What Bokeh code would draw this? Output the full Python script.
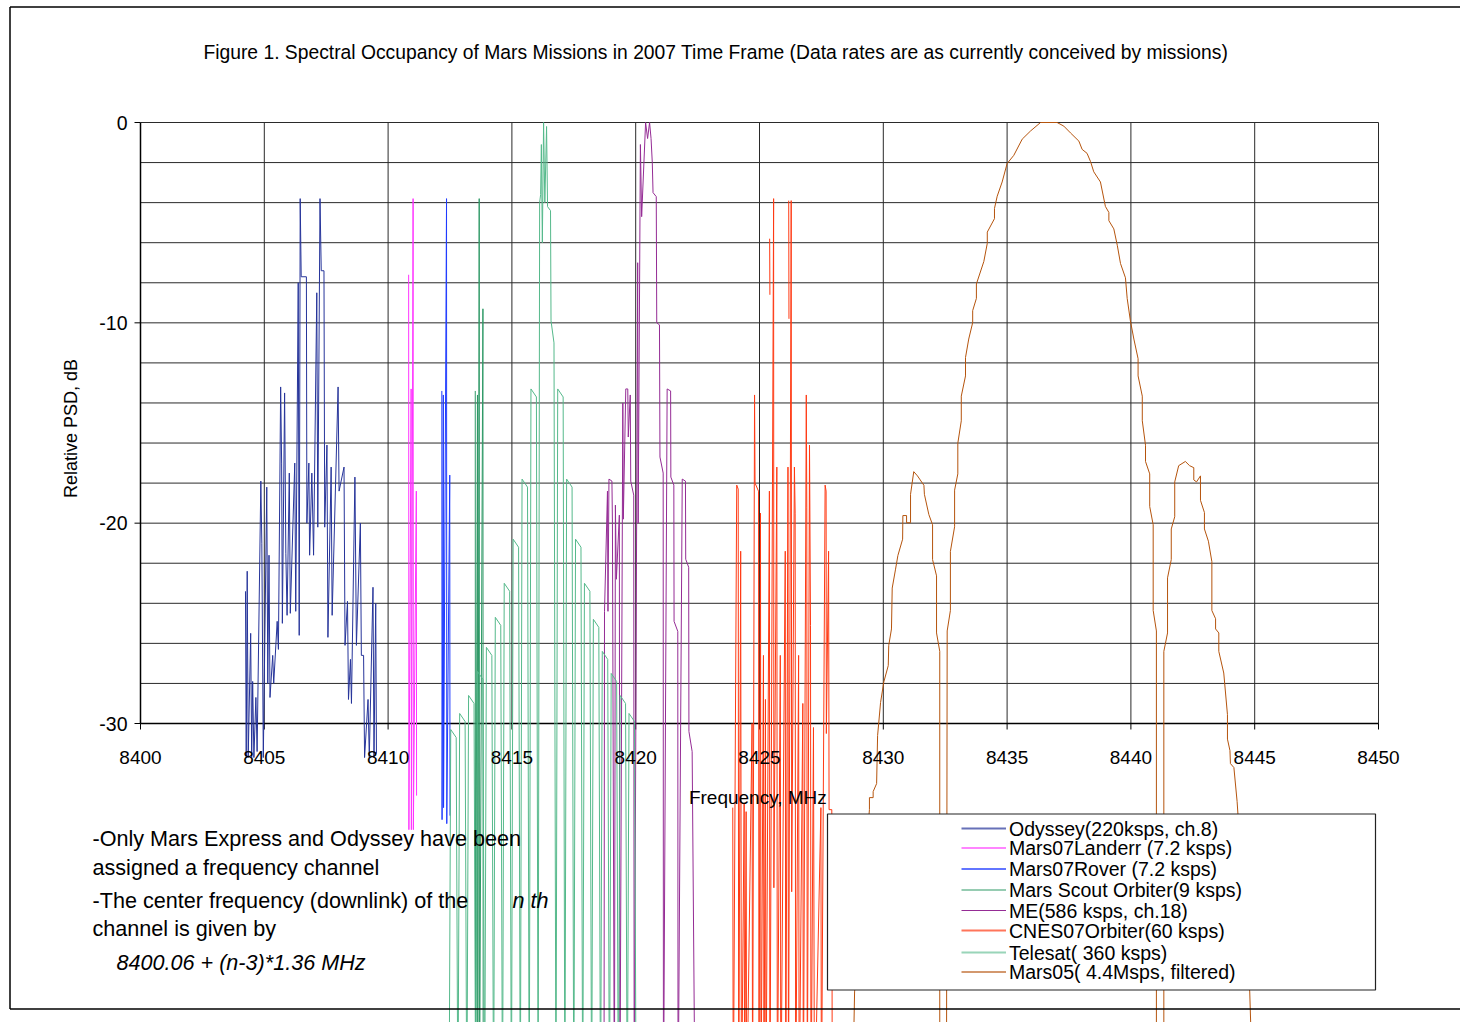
import math
import numpy as np
from bokeh.plotting import figure
from bokeh.models import Range1d
from bokeh.core.properties import value
from bokeh.embed import file_html
from bokeh.resources import INLINE

NaN = float("nan")

# ---------------- texts / ticks ----------------
title_text = ("Figure 1. Spectral Occupancy of Mars Missions  in 2007 Time Frame "
              "(Data rates are as currently conceived by missions)")
x_title = "Frequency,  MHz"
y_title = "Relative PSD, dB"
x_ticks = [8400, 8405, 8410, 8415, 8420, 8425, 8430, 8435, 8440, 8445, 8450]
x_tick_labels = ["8400", "8405", "8410", "8415", "8420", "8425", "8430", "8435", "8440", "8445", "8450"]
y_ticks = [0, -10, -20, -30]
y_tick_labels = ["0", "-10", "-20", "-30"]
y_grid = [0, -2, -4, -6, -8, -10, -12, -14, -16, -18, -20, -22, -24, -26, -28, -30]

note_lines = ["-Only Mars Express and Odyssey have been",
              "assigned a frequency channel",
              "-The center frequency (downlink) of the",
              "channel is given by"]
note_nth = "n th"
note_formula = "8400.06 + (n-3)*1.36 MHz"

series_names = ["Odyssey(220ksps,  ch.8)", "Mars07Landerr  (7.2  ksps)", "Mars07Rover  (7.2  ksps)",
                "Mars Scout Orbiter(9 ksps)", "ME(586 ksps, ch.18)", "CNES07Orbiter(60  ksps)",
                "Telesat(  360  ksps)", "Mars05(  4.4Msps, filtered)"]
series_colors = ["#26349A", "#FF33FF", "#1F3BFF", "#2E9966", "#952C95", "#FF3A14", "#55B98B", "#B5540D"]

# ---------------- series (MHz, dB) ----------------
ody_f = [8404.24, 8404.27, 8404.31, 8404.35, 8404.45, 8404.49, 8404.53, 8404.58, 8404.66, 8404.71,
         8404.86, 8404.90, 8404.96, 8405.10, 8405.14, 8405.19, 8405.23, 8405.34, 8405.38, 8405.52,
         8405.57, 8405.66, 8405.70, 8405.73, 8405.82, 8405.87, 8405.92, 8406.01, 8406.05, 8406.23,
         8406.27, 8406.37, 8406.41, 8406.45, 8406.49, 8406.70, 8406.72, 8406.80, 8406.83, 8406.92,
         8406.99, 8407.12, 8407.16, 8407.25, 8407.30, 8407.41, 8407.44, 8407.53, 8407.57, 8407.70,
         8407.74, 8407.98, 8408.02, 8408.22, 8408.26, 8408.36, 8408.40, 8408.48, 8408.52, 8408.66,
         8408.72, 8408.88, 8408.92, 8409.01, 8409.05, 8409.19, 8409.24, 8409.39, 8409.43, 8409.50,
         8409.53]
ody_db = [-23.4, -31.7, -22.4, -31.7, -25.5, -31.7, -27.9, -31.7, -28.7, -31.4,
          -17.9, -21.0, -31.7, -18.2, -28.0, -21.6, -28.7, -26.6, -28.0, -24.9,
          -26.3, -13.2, -17.0, -25.0, -13.5, -21.5, -24.6, -17.5, -24.5, -17.0,
          -24.4, -8.0, -25.6, -3.8, -7.7, -7.7, -20.0, -17.0, -21.6, -17.5,
          -21.6, -8.5, -20.2, -3.8, -7.4, -7.4, -20.2, -16.1, -25.7, -17.2,
          -24.6, -13.2, -18.4, -17.2, -26.1, -23.9, -28.8, -26.8, -29.0, -17.7,
          -26.1, -20.0, -26.6, -26.6, -31.7, -28.8, -31.7, -23.2, -31.7, -24.0,
          -31.5]

lan_f = [8410.83, 8410.84, 8410.93, 8410.94, 8411.01, 8411.02, 8411.14, 8411.15]
lan_db = [-7.6, -35.3, -13.3, -35.3, -3.8, -35.3, -18.4, -33.6]

rov_f = [8412.17, 8412.18, 8412.23, 8412.24, 8412.36, 8412.37, 8412.49, 8412.50]
rov_db = [-13.4, -34.8, -13.6, -34.2, -3.8, -35.0, -17.6, -34.6]

sco_f = [8413.52, 8413.53, 8413.61, 8413.62, 8413.68, 8413.69, 8413.83, 8413.84]
sco_db = [-13.4, -50, -13.6, -50, -3.8, -50, -9.3, -50]

me_f = [8418.72, 8418.74, 8418.86, 8418.88, 8418.92, 8419.04, 8419.06, 8419.14, 8419.18, 8419.22,
        8419.34, 8419.36, 8419.48, 8419.50, 8419.60, 8419.68, 8419.70, 8419.78, 8419.80, 8419.92,
        8419.94, 8420.08, 8420.10, 8420.19, 8420.24, 8420.40, 8420.48, 8420.56, 8420.62, 8420.67,
        8420.70, 8420.83, 8420.85, 8420.96, 8420.98, 8421.11, 8421.12, 8421.27, 8421.41, 8421.42,
        8421.54, 8421.55, 8421.70, 8421.71, 8421.88, 8422.01, 8422.02, 8422.14, 8422.15, 8422.28,
        8422.40]
me_db = [-50, -24.4, -18.4, -24.4, -17.8, -17.9, -20.0, -50, -19.1, -22.8,
         -19.6, -50, -14.0, -19.8, -13.3, -13.3, -15.7, -13.6, -17.9, -18.6,
         -50, -7.0, -20.0, -1.1, -4.7, 0.0, -0.8, 0.0, -0.8, -2.0,
         -3.5, -3.7, -10.0, -10.1, -16.7, -17.5, -50, -13.3, -13.4, -17.7,
         -18.1, -24.9, -25.4, -50, -17.8, -17.9, -21.8, -22.2, -30.4, -31.4,
         -50]

cn_f = [8423.92, 8423.94, 8424.08, 8424.14, 8424.16, 8424.24, 8424.27, 8424.38, 8424.40, 8424.46,
        8424.48, 8424.70, 8424.72, 8424.80, 8424.82, 8424.96, 8424.98, 8425.04, 8425.06, 8425.16,
        8425.18, 8425.24, 8425.26, 8425.40, 8425.42, 8425.57, 8425.58, 8425.70, 8425.72, 8425.84,
        8425.86, 8426.04, 8426.06, 8426.15, 8426.17, 8426.28, 8426.30, 8426.41, 8426.44, 8426.46,
        8426.58, 8426.60, 8426.75, 8426.77, 8426.89, 8426.91, 8426.93, 8427.02, 8427.06, 8427.08,
        8427.18, 8427.22, 8427.48, 8427.50, 8427.65, 8427.69, 8427.70, 8427.79, 8427.81, 8427.92,
        8427.94, NaN, 8425.41, 8425.42, NaN, 8426.18, 8426.19]
cn_db = [-34.2, -50, -18.1, -18.3, -50, -21.4, -50, -34.0, -50, -34.4,
         -50, -30.0, -50, -13.6, -18.0, -18.4, -50, -19.5, -50, -26.6,
         -50, -28.8, -50, -18.4, -50, -3.8, -38.2, -17.2, -50, -26.6,
         -50, -21.4, -50, -17.2, -50, -3.9, -38.4, -17.2, -19.5, -50,
         -26.6, -50, -29.0, -50, -13.6, -19.2, -50, -16.1, -25.1, -50,
         -30.2, -50, -34.2, -50, -18.1, -18.4, -30.5, -21.4, -34.3, -34.3,
         -50, NaN, -5.8, -8.6, NaN, -3.9, -9.8]

tel_f = [8412.46, 8412.53, 8412.75, 8412.82, 8412.89, 8413.11, 8413.18, 8413.25, 8413.47, 8413.54,
         8413.61, 8413.83, 8413.90, 8413.97, 8414.19, 8414.26, 8414.33, 8414.55, 8414.62, 8414.69,
         8414.91, 8414.98, 8415.05, 8415.27, 8415.34, 8415.41, 8415.63, 8415.70, 8415.77, 8415.99,
         8416.06, 8416.12, 8416.16, 8416.19, 8416.23, 8416.28, 8416.33, 8416.40, 8416.44, 8416.56,
         8416.58, 8416.70, 8416.78, 8416.85, 8417.07, 8417.14, 8417.21, 8417.43, 8417.50, 8417.57,
         8417.79, 8417.86, 8417.93, 8418.15, 8418.22, 8418.29, 8418.51, 8418.58, 8418.65, 8418.87,
         8418.94, 8419.01, 8419.23, 8419.30, 8419.37, 8419.59, 8419.66, 8419.73, 8419.95, 8420.02]
tel_db = [-50, -30.3, -30.7, -50, -29.5, -29.9, -50, -28.6, -29.0, -50,
          -27.4, -27.8, -50, -26.2, -26.6, -50, -24.7, -25.1, -50, -23.0,
          -23.4, -50, -20.8, -21.2, -50, -17.8, -18.2, -50, -13.3, -13.7,
          -50, -4.0, -3.6, -1.1, -6.0, 0.0, -4.0, -0.2, -4.2, -4.4,
          -9.9, -11.0, -50, -13.3, -13.7, -50, -17.8, -18.2, -50, -20.8,
          -21.2, -50, -23.0, -23.4, -50, -24.8, -25.2, -50, -26.4, -26.8,
          -50, -27.5, -27.9, -50, -28.6, -29.0, -50, -29.5, -29.9, -50]

m5_f = [8428.74, 8428.84, 8429.44, 8429.44, 8429.59, 8429.59, 8429.73, 8429.77, 8429.89, 8430.02,
        8430.20, 8430.22, 8430.33, 8430.36, 8430.49, 8430.59, 8430.78, 8430.79, 8430.94, 8430.94,
        8431.10, 8431.10, 8431.23, 8431.38, 8431.64, 8431.66, 8431.84, 8431.99, 8431.99, 8432.15,
        8432.15, 8432.28, 8432.28, 8432.55, 8432.58, 8432.71, 8432.71, 8432.88, 8432.88, 8433.01,
        8433.01, 8433.15, 8433.15, 8433.32, 8433.32, 8433.45, 8433.61, 8433.61, 8433.76, 8433.76,
        8434.06, 8434.20, 8434.20, 8434.49, 8434.49, 8434.60, 8434.80, 8435.00, 8435.27, 8435.61,
        8435.95, 8436.35, 8437.02, 8437.29, 8437.56, 8437.90, 8438.03, 8438.23, 8438.37, 8438.50,
        8438.77, 8438.97, 8439.11, 8439.11, 8439.31, 8439.45, 8439.58, 8439.78, 8439.85, 8439.98,
        8440.12, 8440.29, 8440.29, 8440.46, 8440.46, 8440.59, 8440.59, 8440.76, 8440.76, 8440.90,
        8440.90, 8441.03, 8441.03, 8441.33, 8441.33, 8441.48, 8441.48, 8441.63, 8441.63, 8441.77,
        8441.77, 8441.93, 8442.20, 8442.37, 8442.54, 8442.54, 8442.65, 8442.81, 8442.81, 8442.97,
        8442.97, 8443.13, 8443.27, 8443.27, 8443.42, 8443.42, 8443.55, 8443.55, 8443.75, 8443.90,
        8443.90, 8444.00, 8444.02, 8444.16, 8444.29, 8444.80, 8444.96]
m5_db = [-50, -43.4, -34.3, -33.7, -33.7, -33.4, -33.0, -30.6, -28.95, -27.93,
         -27.11, -26.10, -25.28, -23.24, -22.33, -21.61, -20.80, -19.62, -19.62, -19.98,
         -19.98, -18.56, -17.43, -17.64, -18.11, -18.56, -19.57, -20.08, -21.82, -22.63,
         -25.48, -26.40, -50, -50, -25.38, -24.36, -21.41, -20.18, -18.35, -17.54,
         -16.01, -14.89, -13.66, -12.65, -11.73, -10.81, -9.99, -9.39, -8.78, -8.06,
         -6.94, -6.03, -5.47, -4.80, -4.29, -3.68, -2.97, -2.05, -1.64, -0.83,
         -0.42, 0.0, 0.0, -0.18, -0.52, -0.93, -1.34, -1.54, -1.95, -2.46,
         -2.97, -4.19, -4.49, -4.90, -5.31, -6.13, -7.04, -7.75, -8.78, -9.90,
         -10.81, -11.79, -12.65, -13.66, -14.89, -16.11, -16.92, -17.54, -19.17, -20.08,
         -24.36, -25.38, -50, -50, -26.40, -25.48, -22.73, -21.82, -20.29, -19.68,
         -17.94, -17.13, -16.92, -17.13, -17.23, -17.84, -17.94, -17.64, -18.86, -19.47,
         -20.29, -20.90, -21.92, -24.36, -24.77, -25.28, -25.48, -26.40, -27.48, -29.56,
         -30.78, -31.35, -32.0, -32.2, -33.9, -43.4, -50]

series_f = [ody_f, lan_f, rov_f, sco_f, me_f, cn_f, tel_f, m5_f]
series_db = [ody_db, lan_db, rov_db, sco_db, me_db, cn_db, tel_db, m5_db]

# ---------------- page layout (pixel calibration of the original picture) ----------------
W, H = 1460, 1022
ORIGIN = 0  # canvas lands at the page's top-left corner


def fx(X):
    return 8400.0 + (X - 140.0) * (50.0 / 1238.0)


def fy(Y):
    return 0.0 - (Y - 122.0) * (30.0 / 601.0)


p = figure(width=W, height=H,
           x_range=Range1d(fx(ORIGIN), fx(ORIGIN + W)),
           y_range=Range1d(fy(ORIGIN + H), fy(ORIGIN)),
           x_axis_type=None, y_axis_type=None, title=None,
           toolbar_location=None, output_backend="svg", min_border=0)
p.outline_line_color = None
p.background_fill_color = "white"
p.border_fill_color = "white"

FONT = value("Liberation Sans")
n_x, n_y = len(x_ticks), len(y_grid)
x_lo, x_hi = x_ticks[0], x_ticks[-1]
y_lo, y_hi = y_ticks[-1], y_ticks[0]

# grid
p.segment(x0=[x_lo] * n_y, y0=y_grid, x1=[x_hi] * n_y, y1=y_grid, line_color="#2a2a2a", line_width=1)
p.segment(x0=x_ticks[1:], y0=[y_lo] * (n_x - 1), x1=x_ticks[1:], y1=[y_hi] * (n_x - 1),
          line_color="#2a2a2a", line_width=1)
# axis lines and tick marks
p.segment(x0=[x_lo, x_lo], y0=[y_lo, y_lo], x1=[x_lo, x_hi], y1=[y_hi, y_lo], line_color="black", line_width=1.5)
p.segment(x0=x_ticks, y0=[y_lo] * n_x, x1=x_ticks, y1=[fy(729)] * n_x, line_color="black", line_width=1)
p.segment(x0=[fx(134)] * len(y_ticks), y0=y_ticks, x1=[x_lo] * len(y_ticks), y1=y_ticks,
          line_color="black", line_width=1)

# data
for fs, dbs, col in zip(series_f, series_db, series_colors):
    p.line(x=np.array(fs, dtype=float), y=np.array(dbs, dtype=float), line_color=col, line_width=1)

# outer chart border
p.multi_line(xs=[[fx(9.5), fx(9.5)], [fx(9.5), fx(ORIGIN + W)], [fx(9.5), fx(ORIGIN + W)]],
             ys=[[fy(6.5), fy(1008.5)], [fy(6.5), fy(6.5)], [fy(1008.5), fy(1008.5)]],
             line_color="black", line_width=1.5)

# texts
p.text(x=[fx(718)], y=[fy(52)], text=[title_text], text_font=FONT, text_font_size="19.3px",
       text_align="center", text_baseline="alphabetic", text_color="black")
p.text(x=x_ticks, y=[fy(757)] * n_x, text=x_tick_labels, text_font=FONT, text_font_size="19px",
       text_align="center", text_baseline="alphabetic", text_color="black")
p.text(x=[fx(127)] * len(y_ticks), y=y_ticks, text=y_tick_labels, text_font=FONT, text_font_size="19.5px",
       text_align="right", text_baseline="middle", text_color="black")
p.text(x=[fx(760)], y=[fy(797)], text=[x_title], text_font=FONT, text_font_size="19px",
       text_align="center", text_baseline="alphabetic", text_color="black")
p.text(x=[fx(70)], y=[fy(428)], text=[y_title], angle=math.pi / 2, text_font=FONT, text_font_size="18px",
       text_align="center", text_baseline="alphabetic", text_color="black")

note_y = [837.7, 866.7, 900.0, 928.0]
p.text(x=[fx(92)] * len(note_lines), y=[fy(v) for v in note_y], text=note_lines, text_font=FONT,
       text_font_size="21.6px", text_align="left", text_baseline="alphabetic", text_color="black")
p.text(x=[fx(512)], y=[fy(900.0)], text=[note_nth], text_font=FONT, text_font_size="21.6px",
       text_font_style="italic", text_align="left", text_baseline="alphabetic", text_color="black")
p.text(x=[fx(116)], y=[fy(961.7)], text=[note_formula], text_font=FONT, text_font_size="21.6px",
       text_font_style="italic", text_align="left", text_baseline="alphabetic", text_color="black")

# legend (white box over the traces, sample line + label per series)
p.quad(left=[fx(827)], right=[fx(1375)], top=[fy(813.5)], bottom=[fy(989.5)],
       fill_color="white", fill_alpha=1.0, line_color="#222222", line_width=1.2)
legend_rows = [828.0, 847.5, 868.5, 889.5, 910.0, 930.0, 952.0, 971.5]
legend_widths = [2, 2, 2, 1.2, 1.2, 2, 2, 2]
legend_alpha = [0.7, 0.6, 0.7, 1.0, 1.0, 0.7, 0.6, 0.6]
p.segment(x0=[fx(961)] * len(series_names), y0=[fy(v) for v in legend_rows],
          x1=[fx(1005.5)] * len(series_names), y1=[fy(v) for v in legend_rows],
          line_color=series_colors, line_width=legend_widths, line_alpha=legend_alpha)
p.text(x=[fx(1008.5)] * len(series_names), y=[fy(v) for v in legend_rows], text=series_names,
       text_font=FONT, text_font_size="19.5px", text_align="left", text_baseline="middle",
       text_color="black")

open("out.html", "w").write(file_html(p, INLINE, title="Spectral Occupancy of Mars Missions"))
